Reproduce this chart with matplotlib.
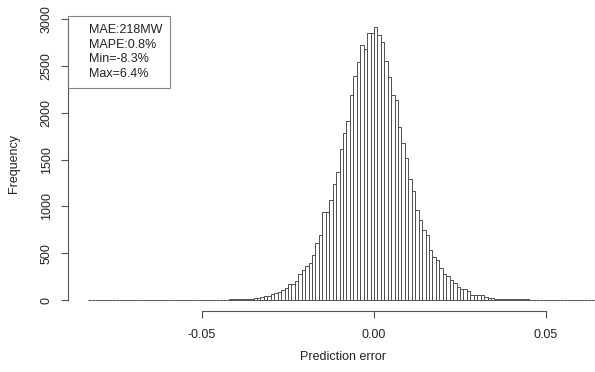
import matplotlib
matplotlib.use("Agg")
import matplotlib.pyplot as plt
from matplotlib.patches import Patch
import numpy as np

plt.rcParams['font.family'] = ['Liberation Sans', 'DejaVu Sans']

# Histogram data (bin width 0.001, first bin starts at -0.083)
bin_start = -0.083
bin_width = 0.001
counts = [
    1, 0, 0, 1, 0, 0, 1, 0, 1, 0,            # -0.083 .. -0.074
    1, 0, 1, 1, 0, 1, 1, 0, 1, 1,            # -0.073 .. -0.064
    1, 2, 1, 1, 2, 2, 1, 2, 2, 3,            # -0.063 .. -0.054
    2, 3, 3, 4, 3, 4, 5, 4, 5, 6,            # -0.053 .. -0.044
    6, 7, 7, 8, 9, 10, 11, 15, 18, 25,       # -0.043 .. -0.034
    35, 43, 46, 60, 74, 84, 106, 126, 167, 170,   # -0.033 .. -0.024
    202, 284, 319, 365, 397, 479, 614, 699, 937, 937,  # -0.023 .. -0.014
    1065, 1236, 1372, 1610, 1781, 1917, 2191, 2398, 2540, 2729,  # -0.013 .. -0.004
    2679, 2850, 2850, 2914, 2833, 2761, 2558, 2387, 2191, 2138,  # -0.003 .. 0.006
    1853, 1675, 1514, 1290, 1165, 960, 855, 753, 690, 535,   # 0.007 .. 0.016
    462, 427, 345, 280, 262, 210, 180, 135, 121, 114,        # 0.017 .. 0.026
    96, 57, 50, 53, 50, 32, 25, 18, 14, 14,                  # 0.027 .. 0.036
    14, 7, 7, 10, 10, 7, 7, 7, 4, 4,                         # 0.037 .. 0.046
    3, 3, 4, 2, 2, 2, 1, 2, 1, 1,                            # 0.047 .. 0.056
    1, 0, 1, 1, 0, 1, 0, 1,                                  # 0.057 .. 0.064
]
x_ticks = [-0.05, 0.0, 0.05]
x_ticklabels = ["-0.05", "0.00", "0.05"]
y_ticks = [0, 500, 1000, 1500, 2000, 2500, 3000]
legend_lines = ["MAE:218MW", "MAPE:0.8%", "Min=-8.3%", "Max=6.4%"]

W, H = 595, 372
fig = plt.figure(figsize=(W / 100, H / 100), dpi=100)
left_px, right_px, top_px, bot_px = 68, 618, 16.4, 311
ax = fig.add_axes([left_px / W, (H - bot_px) / H,
                   (right_px - left_px) / W, (bot_px - top_px) / H])

lefts = bin_start + bin_width * np.arange(len(counts))
ax.bar(lefts, counts, width=bin_width, align='edge', facecolor='white',
       edgecolor='#505050', linewidth=0.7)

n_bins = len(counts)
xmin = bin_start
xmax = bin_start + n_bins * bin_width
ext = (xmax - xmin) * 0.04
ax.set_xlim(xmin - ext, xmax + ext)
ymax = max(counts)
ax.set_ylim(-ymax * 0.04, ymax * 1.04)

for s in ['top', 'right']:
    ax.spines[s].set_visible(False)
for s in ['left', 'bottom']:
    ax.spines[s].set_color('#555555')
    ax.spines[s].set_linewidth(0.8)
ax.spines['left'].set_bounds(0, 3000)
ax.spines['bottom'].set_bounds(-0.05, 0.05)

fs = 9
ax.set_xticks(x_ticks)
ax.set_xticklabels(x_ticklabels)
ax.set_yticks(y_ticks)
ax.set_yticklabels([str(v) for v in y_ticks], rotation=90, va='center')
ax.tick_params(axis='both', length=5, width=0.8, color='#555555',
               labelsize=fs, labelcolor='#222222')
ax.tick_params(axis='y', pad=6)
ax.tick_params(axis='x', pad=8)

ax.set_xlabel("Prediction error", fontsize=fs, color='#222222')
ax.set_ylabel("Frequency", fontsize=fs, color='#222222')
ax.xaxis.set_label_coords((343 - left_px) / (right_px - left_px), -0.135)
ax.yaxis.set_label_coords(-(left_px - 20) / (right_px - left_px), 0.5)

handles = [Patch(facecolor='none', edgecolor='none') for _ in legend_lines]
leg = ax.legend(handles, legend_lines, loc='upper left', bbox_to_anchor=(0, 1),
                borderaxespad=0, fontsize=fs, frameon=True, fancybox=False,
                borderpad=0.6, handlelength=0.7, handletextpad=0.38,
                labelspacing=0.22)
leg.get_frame().set_edgecolor('#666666')
leg.get_frame().set_linewidth(0.8)
for t in leg.get_texts():
    t.set_color('#222222')

fig.savefig("out.png", dpi=100)
